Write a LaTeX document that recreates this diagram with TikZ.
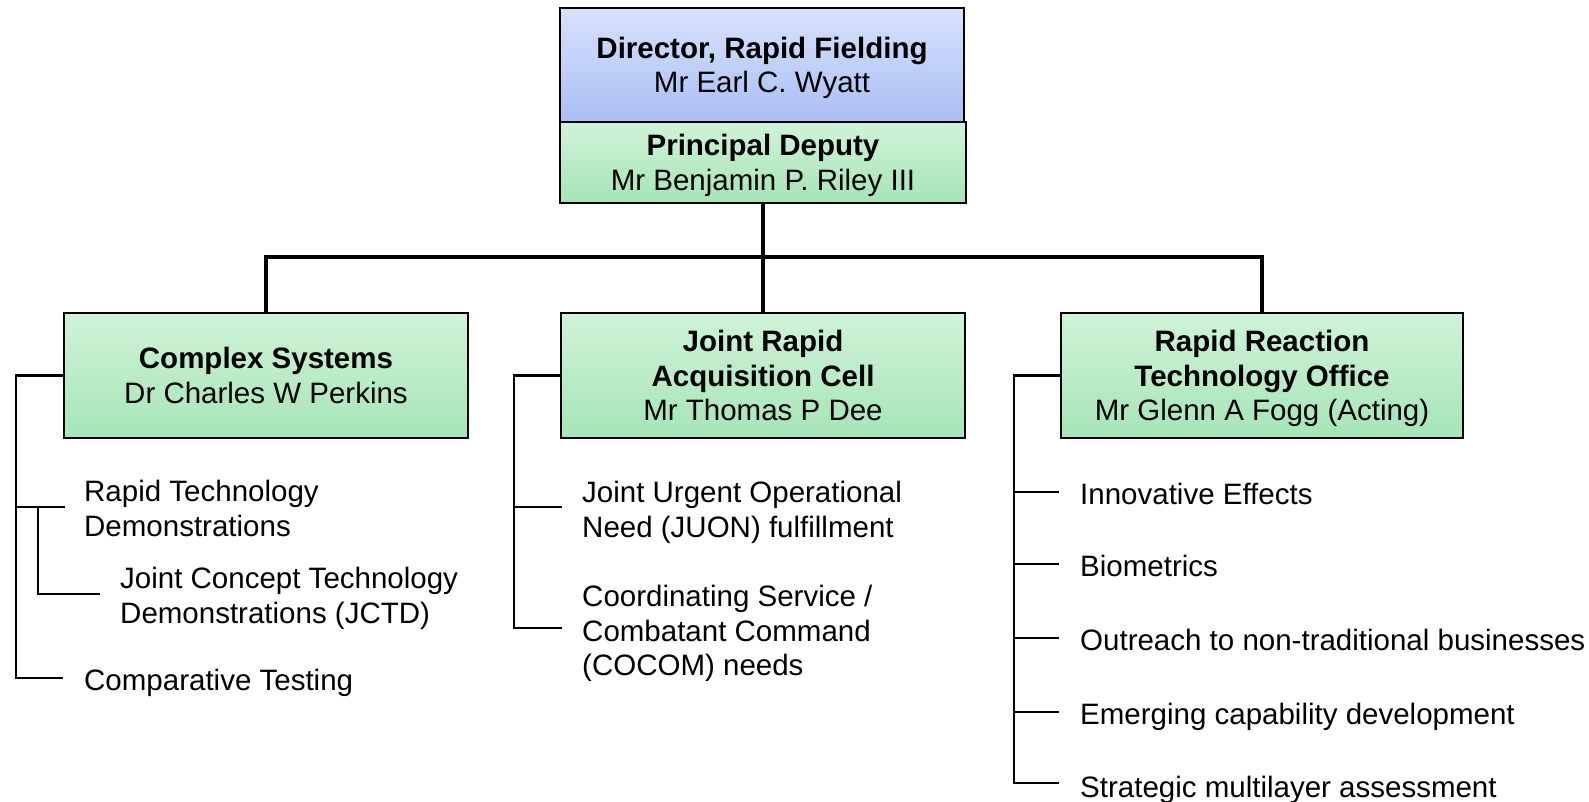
\documentclass[tikz,border=0pt]{standalone}
\usepackage{fontspec}
\setmainfont{Liberation Sans}
\definecolor{blueT}{RGB}{216,226,252}
\definecolor{blueB}{RGB}{168,190,244}
\definecolor{greenT}{RGB}{208,243,216}
\definecolor{greenB}{RGB}{165,229,183}
\begin{document}
\begin{tikzpicture}[x=1pt,y=-1pt,
  txt/.style={font=\fontsize{29.5}{34.5}\selectfont, text depth=0pt},
  box/.style={txt, draw=black, line width=2.5pt, align=center, inner sep=0pt,
    top color=greenT, bottom color=greenB},
  bluebox/.style={box, top color=blueT, bottom color=blueB},
  item/.style={txt, anchor=west, align=left, inner sep=0pt, yshift=-1.5pt},
  tree/.style={line width=4pt},
  br/.style={line width=2.5pt}]
\useasboundingbox (0,0) rectangle (1589,802);

% top boxes
\node[bluebox, minimum width=404pt, minimum height=114pt] (dir) at (762,65)
  {\textbf{Director, Rapid Fielding}\\Mr Earl C. Wyatt};

% tree connectors (drawn below the boxes)
\coordinate (depS) at (763,203);
\coordinate (jrN) at (763,313);
\draw[tree] (depS) -- (jrN);
\coordinate (csN) at (266,313);
\coordinate (rrN) at (1262,313);
\draw[tree] (csN) -- ++(0,-56) -| (rrN);

\node[box, minimum width=406pt, minimum height=81pt] (dep) at (763,162.5)
  {\textbf{Principal Deputy}\\Mr Benjamin P. Riley III};

\node[box, minimum width=404pt, minimum height=125pt] (cs) at (266,375.5)
  {\textbf{Complex Systems}\\Dr Charles W Perkins};
\node[box, minimum width=404pt, minimum height=125pt] (jr) at (763,375.5)
  {\textbf{Joint Rapid}\\\textbf{Acquisition Cell}\\Mr Thomas P Dee};
\node[box, minimum width=402pt, minimum height=125pt] (rr) at (1262,375.5)
  {\textbf{Rapid Reaction}\\\textbf{Technology Office}\\Mr Glenn A Fogg (Acting)};

% Complex Systems items
\coordinate (csB) at (16,678);
\coordinate (rtdE) at (65,507);
\coordinate (subT) at (38,507);
\coordinate (jctdE) at (100,594);
\coordinate (cmpE) at (63,678);
\draw[br] (cs.west) -| (csB) -- (cmpE);
\draw[br] (csB |- rtdE) -- (rtdE);
\draw[br] (subT) |- (jctdE);
\node[item] (rtd) at (84,507) {Rapid Technology\\Demonstrations};
\node[item] (jctd) at (120,594) {Joint Concept Technology\\Demonstrations (JCTD)};
\node[item] (cmp) at (84,678) {Comparative Testing};

% JRAC items
\coordinate (jrB) at (514,628);
\coordinate (juonE) at (562,507);
\coordinate (cocE) at (562,628);
\draw[br] (jr.west) -| (jrB) -- (cocE);
\draw[br] (jrB |- juonE) -- (juonE);
\node[item] (juon) at (582,508) {Joint Urgent Operational\\Need (JUON) fulfillment};
\node[item] (coc) at (582,629) {Coordinating Service /\\Combatant Command\\(COCOM) needs};

% RRTO items
\coordinate (rrB) at (1014,783);
\coordinate (ieE) at (1059,492);
\coordinate (bioE) at (1059,564);
\coordinate (outE) at (1059,638);
\coordinate (emE) at (1059,712);
\coordinate (smE) at (1059,783);
\draw[br] (rr.west) -| (rrB) -- (smE);
\draw[br] (rrB |- ieE) -- (ieE);
\draw[br] (rrB |- bioE) -- (bioE);
\draw[br] (rrB |- outE) -- (outE);
\draw[br] (rrB |- emE) -- (emE);
\node[item] (ie) at (1080,492) {Innovative Effects};
\node[item] (bio) at (1080,564) {Biometrics};
\node[item] (out) at (1080,638) {Outreach to non-traditional businesses};
\node[item] (em) at (1080,712) {Emerging capability development};
\node[item] (sm) at (1080,785) {Strategic multilayer assessment};
\end{tikzpicture}
\end{document}
